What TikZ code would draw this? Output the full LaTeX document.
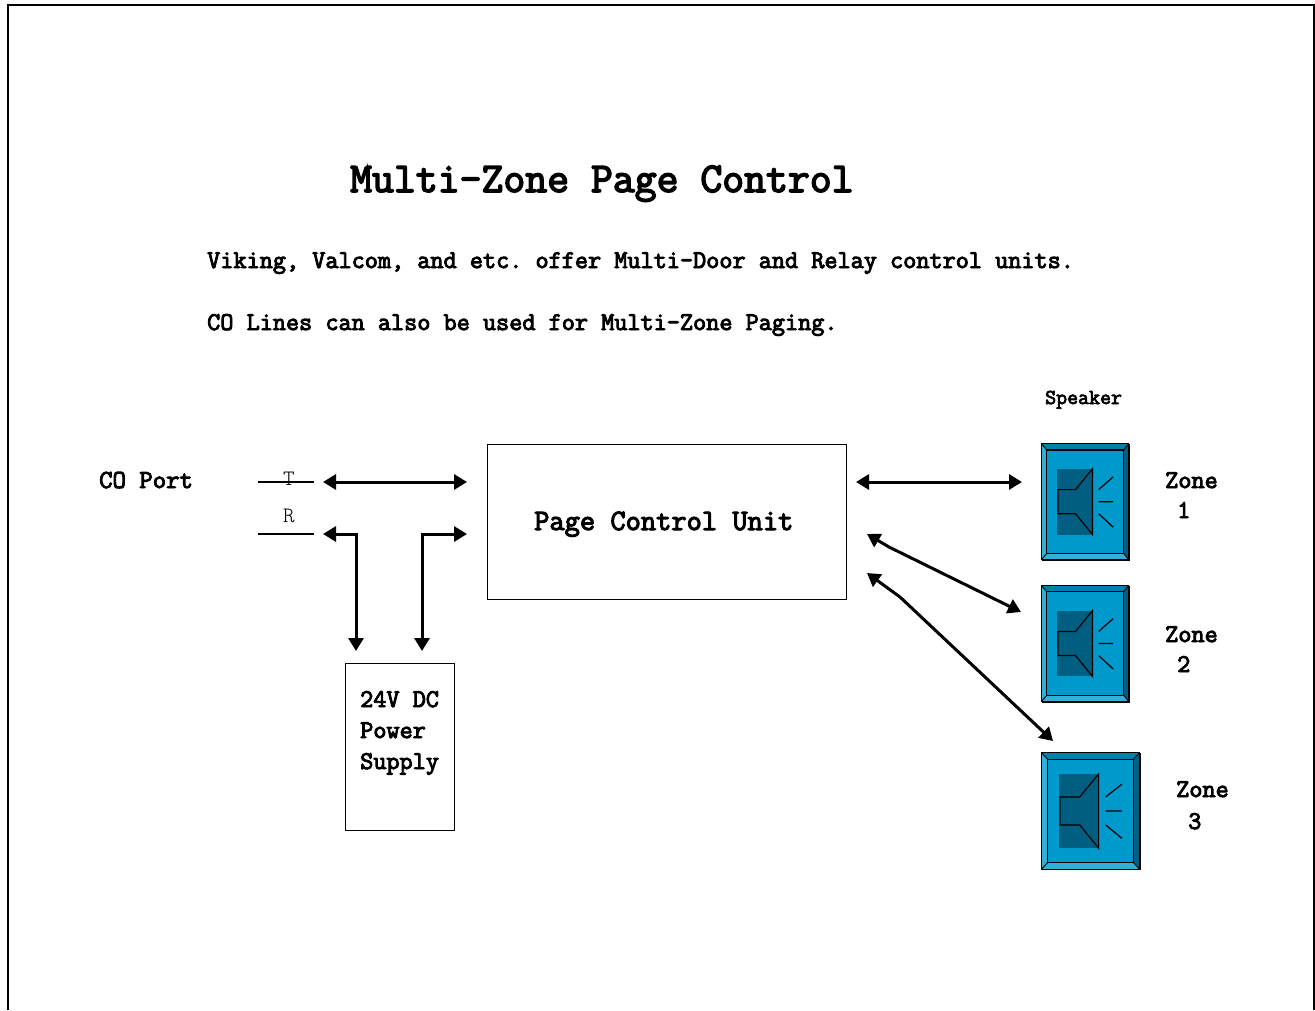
\documentclass[tikz,border=0pt]{standalone}
\usepackage{fontspec}
\newfontfamily\cbold[FakeBold=3.6]{Latin Modern Mono}
\newfontfamily\clight{Latin Modern Mono Light}
\usetikzlibrary{arrows.meta}
\definecolor{spmain}{HTML}{0099CC}
\definecolor{spdark}{HTML}{005F80}
\definecolor{sptop}{HTML}{0080AA}
\definecolor{splight}{HTML}{33B0D8}
\newcommand{\spk}[9]{%
 \node[draw=black,line width=1.2pt,fill=spmain,minimum width=#3 pt,minimum height=#4 pt,inner sep=0pt,anchor=north west] (#5) at (#1,#2) {};
 \begin{scope}[shift={(#1,#2)},x=#3 pt,y=-#4 pt,line join=miter]
  \fill[spdark] (1,0)--(1,1)--(.94,.945)--(.94,.055)--cycle;
  \fill[sptop] (0,0)--(1,0)--(.94,.055)--(.06,.055)--cycle;
  \fill[splight] (0,0)--(.06,.055)--(.06,.945)--(0,1)--cycle;
  \fill[splight] (0,1)--(.06,.945)--(.94,.945)--(1,1)--cycle;
  \fill[spdark] (.178,#6) rectangle (.583,#7);
  \draw[black,line width=1.2pt,fill=spdark] (.19,#8)--(.39,#8)--(.583,#6)--(.583,#7)--(.39,#9)--(.19,#9)--cycle;
  \draw[line width=1.2pt] (.655,#8)--(.82,#8-.11) (.655,.5)--(.82,.5) (.655,#9)--(.82,#9+.115);
  \draw[line width=1.2pt] (0,0) rectangle (1,1) (.06,.055) rectangle (.94,.945);
  \draw[line width=.9pt] (0,0)--(.06,.055) (1,0)--(.94,.055) (0,1)--(.06,.945) (1,1)--(.94,.945);
 \end{scope}}
\tikzset{
 txt/.style={inner sep=0pt,anchor=base west,font=\cbold\frenchspacing\fontsize{#1}{#1}\selectfont},
 thin txt/.style={inner sep=0pt,anchor=base,font=\clight\fontsize{#1}{#1}\selectfont},
 box/.style={draw=black,line width=1.1pt,inner sep=0pt,anchor=north west},
 wire/.style={line width=1.1pt},
 dbl/.style={line width=3pt,{Triangle[length=13pt,width=15pt]}-{Triangle[length=13pt,width=15pt]}}
}
\begin{document}
\begin{tikzpicture}[x=1pt,y=-1pt]
\useasboundingbox (0,0) rectangle (1315,1010);
\draw[line width=1.2pt] (8,1010)--(8,5)--(1314,5)--(1314,1010);
\node[txt=42.5] (title) at (350,192) {Multi-Zone Page Control};
\node[txt=25.5] (l1) at (207,268) {Viking, Valcom, and etc. offer Multi-Door and Relay control units.};
\node[txt=25.5] (l2) at (207,330) {CO Lines can also be used for Multi-Zone Paging.};
\node[txt=21.3] (spk) at (1045,404) {Speaker};
\node[txt=26] (co) at (99,488) {CO Port};
\node[thin txt=22] (t) at (289,485) {T};
\node[thin txt=22] (r) at (289,522) {R};
\coordinate (t1) at (258,482); \coordinate (t2) at (314,482);
\coordinate (r1) at (258,534); \coordinate (r2) at (314,534);
\draw[wire] (t1)--(t2); \draw[wire] (r1)--(r2);
\node[box,minimum width=359pt,minimum height=155pt] (pcu) at (486.5,443.5) {};
\node[txt=29.6] (pcut) at (534,530) {Page Control Unit};
\node[box,minimum width=109pt,minimum height=167pt] (psu) at (345,663) {};
\node[txt=25.5] (p1) at (360,707) {24V DC};
\node[txt=25.5] (p2) at (360,738) {Power};
\node[txt=25.5] (p3) at (360,769) {Supply};
\spk{1041.5}{443.7}{87.3}{116}{z1}{.217}{.783}{.396}{.604}
\spk{1041.5}{585.5}{87.3}{116}{z2}{.217}{.783}{.396}{.604}
\spk{1041.5}{752.7}{98}{116.5}{z3}{.183}{.82}{.38}{.62}
\node[txt=25.5] (zt1) at (1165,488) {Zone};
\node[txt=25.5] (zn1) at (1177,518) {1};
\node[txt=25.5] (zt2) at (1165,642) {Zone};
\node[txt=25.5] (zn2) at (1177,672) {2};
\node[txt=25.5] (zt3) at (1176,797) {Zone};
\node[txt=25.5] (zn3) at (1188,829) {3};
\coordinate (a1) at (323,482); \coordinate (a2) at (467,482);
\coordinate (b1) at (323,534); \coordinate (b2) at (356,534); \coordinate (b3) at (356,651);
\coordinate (c1) at (422,651); \coordinate (c2) at (422,534); \coordinate (c3) at (467,534);
\coordinate (d1) at (856,482); \coordinate (d2) at (1022,482);
\coordinate (e1) at (867,534); \coordinate (e2) at (889,547); \coordinate (e3) at (1021,612);
\coordinate (f1) at (867,573); \coordinate (f2) at (900,597); \coordinate (f3) at (1053,741);
\draw[dbl] (a1)--(a2);
\draw[dbl] (b1)--(b2)--(b3);
\draw[dbl] (c1)--(c2)--(c3);
\draw[dbl] (d1)--(d2);
\draw[dbl] (e1)--(e2)--(e3);
\draw[dbl] (f1)--(f2)--(f3);
\end{tikzpicture}
\end{document}
